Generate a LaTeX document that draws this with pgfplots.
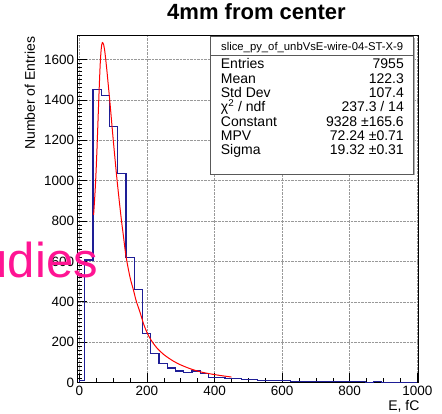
\documentclass[border=0pt]{standalone}
\usepackage{fontspec}
\setmainfont{Liberation Sans}
\usepackage{pgfplots}
\pgfplotsset{compat=1.18}
\definecolor{histblue}{RGB}{30,30,150}
\definecolor{wmpink}{RGB}{255,20,147}
\begin{document}
\begin{tikzpicture}
\begin{axis}[
  at={(0pt,0pt)}, anchor=south west,
  scale only axis, width=340.6pt, height=346.8pt,
  xmin=-5, xmax=1003, ymin=0, ymax=1718,
  xtick={0,200,...,1000}, ytick={0,200,...,1600},
  minor x tick num=3, minor y tick num=9,
  tick align=inside, major tick length=9pt, minor tick length=4pt,
  xtick pos=lower, ytick pos=left,
  grid=major, major grid style={densely dotted, gray!80, line width=0.5pt},
  tick label style={font=\fontsize{13.5}{14}\selectfont},
  /pgf/number format/assume math mode=true,
  /pgf/number format/1000 sep={},
  axis line style={line width=0.8pt},
  tick style={line width=0.6pt, black},
]
\addplot[const plot, histblue, line width=1.1pt] coordinates {
(0,0) (0,12) (16,607) (40.4,1452) (64.8,1420) (89.2,1270) (113.6,1037) (138,618) (162.4,460) (186.8,243) (211.2,143) (235.6,93) (260,72) (284.4,57) (308.8,49) (333.2,57) (357.6,43) (382,26) (406.4,24) (430.8,21) (455.2,19) (479.6,17) (504,17) (528.4,11) (552.8,9) (577.2,8) (601.6,10) (626,6) (650.4,4) (674.8,4) (699.2,6) (723.6,4) (748,5) (772.4,3) (796.8,3) (821.2,3) (845.6,2) (870,3) (894.4,2) (918.8,2) (943.2,2) (967.6,1) (992,1) (1000,1)
};
\addplot[red, line width=1.0pt, smooth] coordinates {
(42,830) (45,905) (48,995) (51,1110) (54,1245) (57,1385) (60,1515) (62,1590) (64,1640) (66,1672) (68,1684) (70,1682) (72,1672) (75,1643) (78,1600) (82,1535) (86,1465) (90,1395) (95,1300) (100,1205) (105,1115) (111,1010) (117,915) (124,810) (130,730) (138,625) (150,520) (160,458) (168,405) (180,345) (190,290) (200,248) (210,216) (220,191) (230,170) (240,153) (250,138) (265,120) (280,104) (300,87) (330,67) (360,52) (390,42) (420,34) (450,27)
};
\end{axis}
% y label
\node[rotate=90, anchor=base east, inner sep=0, font=\fontsize{14}{14}\selectfont] at (-42.7pt,345.8pt) {Number of Entries};
% x label
\node[anchor=base east, inner sep=0, font=\fontsize{14}{14}\selectfont] at (342pt,-28.5pt) {E, fC};
% title
\node[anchor=base, inner sep=0, font=\fontsize{22}{22}\selectfont\bfseries] at (178.8pt,362.5pt) {4mm from center};
% stats box
\fill[gray!60] (134.2pt,207pt) rectangle (337.2pt,344.6pt);
\filldraw[fill=white, draw=gray!70!black, line width=0.7pt] (133pt,208.2pt) rectangle (336pt,345.8pt);
\draw[gray!70!black, line width=0.7pt] (133pt,326.8pt) -- (336pt,326.8pt);
\node[anchor=base, inner sep=0, font=\fontsize{11.3}{12}\selectfont] at (234.5pt,331.8pt) {slice\_py\_of\_unbVsE-wire-04-ST-X-9};
\begin{scope}[every node/.style={inner sep=0, font=\fontsize{14}{14}\selectfont}]
\node[anchor=base west] at (143pt,313.5pt) {Entries};
\node[anchor=base east] at (326.3pt,313.5pt) {7955};
\node[anchor=base west] at (143pt,299.2pt) {Mean};
\node[anchor=base east] at (326.3pt,299.2pt) {122.3};
\node[anchor=base west] at (143pt,284.8pt) {Std Dev};
\node[anchor=base east] at (326.3pt,284.8pt) {107.4};
\node[anchor=base west] at (143pt,270.5pt) {χ\textsuperscript{2} / ndf};
\node[anchor=base east] at (326.3pt,270.5pt) {237.3 / 14};
\node[anchor=base west] at (143pt,256.2pt) {Constant};
\node[anchor=base east] at (326.3pt,256.2pt) {9328 ±165.6};
\node[anchor=base west] at (143pt,241.8pt) {MPV};
\node[anchor=base east] at (326.3pt,241.8pt) {72.24 ±0.71};
\node[anchor=base west] at (143pt,227.5pt) {Sigma};
\node[anchor=base east] at (326.3pt,227.5pt) {19.32 ±0.31};
\end{scope}
% watermark
\node[anchor=base east, inner sep=0, text=wmpink, font=\fontsize{49}{49}\selectfont] at (20.3pt,104.5pt) {udies};
\pgfresetboundingbox
\path (-77.7pt,-31.5pt) rectangle (364.3pt,382.5pt);
\end{tikzpicture}
\end{document}
